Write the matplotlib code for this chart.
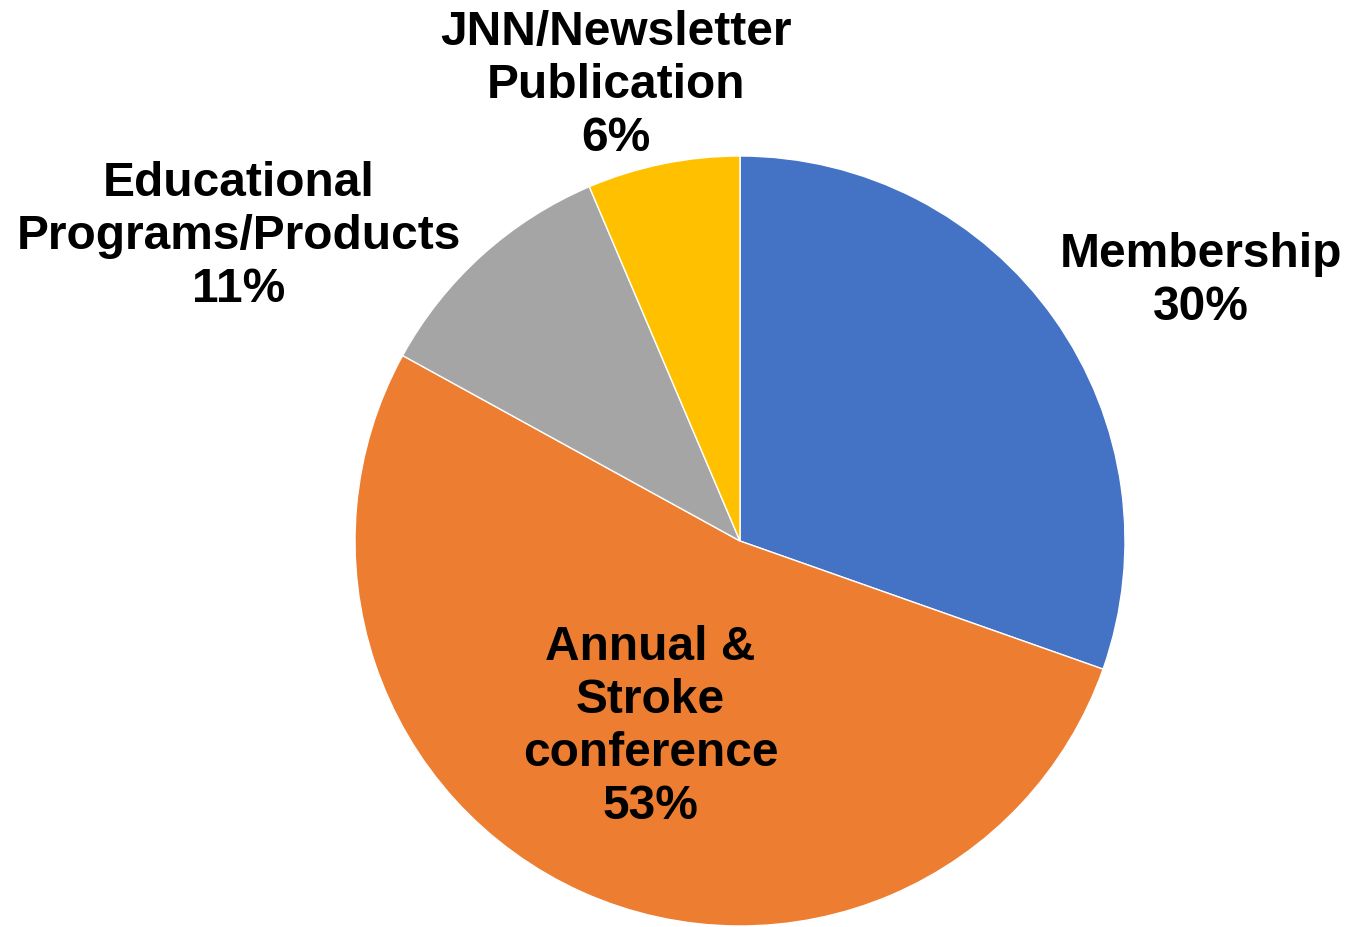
import matplotlib
matplotlib.use("Agg")
import matplotlib.pyplot as plt

categories = ["Membership", "Annual &\nStroke\nconference", "Educational\nPrograms/Products", "JNN/Newsletter\nPublication"]
values = [30.4, 52.6, 10.6, 6.4]
colors = ["#4472C4", "#ED7D31", "#A5A5A5", "#FFC000"]
label_pos = [(1.197, 0.676), (-0.232, -0.483), (-1.302, 0.79), (-0.323, 1.182)]

W, H, dpi = 1350, 927, 100
fig = plt.figure(figsize=(W / dpi, H / dpi), dpi=dpi)
ax = fig.add_axes([0, 0, 1, 1])
cx, cy, r = 740, 541, 385

ax.pie(values, colors=colors, startangle=90, counterclock=False, radius=1.0,
       wedgeprops=dict(edgecolor="white", linewidth=1))
ax.set_xlim(-cx / r, (W - cx) / r)
ax.set_ylim(-(H - cy) / r, cy / r)
ax.set_aspect("equal")
ax.axis("off")

total = sum(values)
for cat, v, (x, y) in zip(categories, values, label_pos):
    ax.text(x, y, f"{cat}\n{round(v / total * 100)}%", ha="center", va="center",
            fontsize=34.5, fontweight="bold", family=["Liberation Sans", "DejaVu Sans"],
            linespacing=1.23, color="black")

fig.savefig("out.png", dpi=dpi)
